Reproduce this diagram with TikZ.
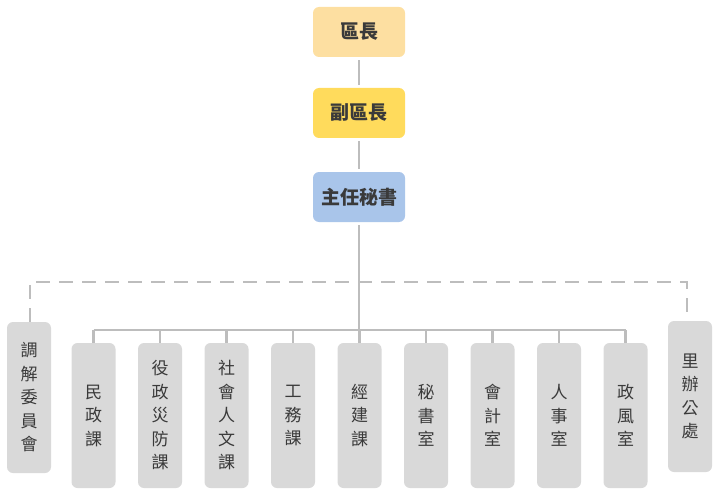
\documentclass[tikz,border=0pt]{standalone}
\usepackage{fontspec}
\newfontfamily\cjk{Noto Sans CJK TC}
\definecolor{boxgray}{HTML}{D9D9D9}
\definecolor{linegray}{HTML}{BDBDBD}
\definecolor{topA}{HTML}{FDDFA1}
\definecolor{topB}{HTML}{FFDB5C}
\definecolor{topC}{HTML}{A9C5EA}
\definecolor{txt}{HTML}{3A3A3A}
\begin{document}
\begin{tikzpicture}[x=1pt,y=-1pt,
  topbox/.style={rounded corners=6pt, minimum width=92pt, minimum height=50pt, inner sep=0pt,
    font=\cjk\bfseries\fontsize{19}{21}\selectfont, text=txt},
  unitbox/.style={fill=boxgray, rounded corners=6pt, minimum width=44pt, minimum height=145pt, inner sep=0pt,
    align=center, font=\cjk\fontsize{17}{23.5}\selectfont, text=txt},
  sidebox/.style={unitbox, minimum height=151pt},
  conn/.style={draw=linegray, line width=2.2pt},
  dconn/.style={draw=linegray, line width=2.2pt, dash pattern=on 14pt off 9pt}]
\useasboundingbox (0,0) rectangle (720,500);
\node[topbox, fill=topA] (qz) at (359,32) {區長};
\node[topbox, fill=topB] (fqz) at (359,113) {副區長};
\node[topbox, fill=topC] (ms) at (359,197) {主任秘書};
\node[sidebox] (med) at (29,397.5) {調\\解\\委\\員\\會};
\node[sidebox] (li) at (690,396.5) {里\\辦\\公\\處};
\node[unitbox] (u1) at (93.5,415.5) {民\\政\\課};
\node[unitbox] (u2) at (160,415.5) {役\\政\\災\\防\\課};
\node[unitbox] (u3) at (226.5,415.5) {社\\會\\人\\文\\課};
\node[unitbox] (u4) at (293,415.5) {工\\務\\課};
\node[unitbox] (u5) at (359.5,415.5) {經\\建\\課};
\node[unitbox] (u6) at (426,415.5) {秘\\書\\室};
\node[unitbox] (u7) at (492.5,415.5) {會\\計\\室};
\node[unitbox] (u8) at (559,415.5) {人\\事\\室};
\node[unitbox] (u9) at (625.5,415.5) {政\\風\\室};
\coordinate (bar) at (359,330);
\coordinate (dl) at (30,282);
\coordinate (dr) at (687,282);
\draw[dconn] (med.north -| dl) -- (dl) -- (dr) -- (li.north -| dr);
\draw[conn, shorten <=3pt, shorten >=3pt] (qz) -- (fqz);
\draw[conn, shorten <=3pt, shorten >=3pt] (fqz) -- (ms);
\draw[conn, shorten <=3pt] (ms) -- (bar);
\draw[conn] (u1.north |- bar) -- (u9.north |- bar);
\foreach \u in {u1,u2,u3,u4,u5,u6,u7,u8,u9}{
  \draw[conn] (\u.north |- bar) -- (\u.north);
}
\end{tikzpicture}
\end{document}
